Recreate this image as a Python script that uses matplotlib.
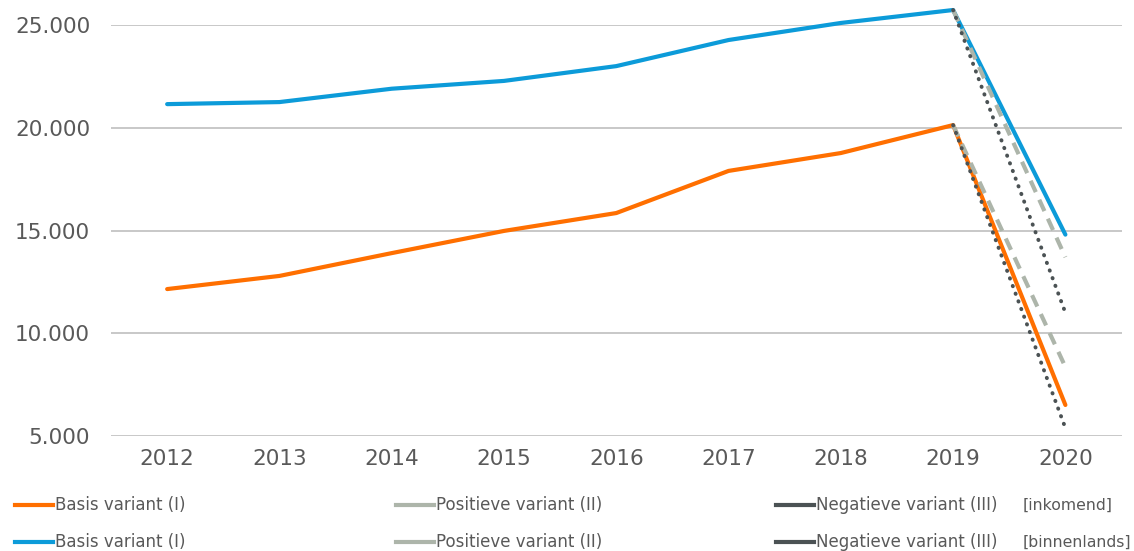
import matplotlib.pyplot as plt
import numpy as np
from matplotlib.lines import Line2D

years = ['2012', '2013', '2014', '2015', '2016', '2017', '2018', '2019', '2020']

# inkomend (orange)
ink_basis = [12150, 12790, 13900, 14980, 15850, 17900, 18770, 20130, 6510]
ink_pos = [np.nan] * 7 + [20130, 8360]
ink_neg = [np.nan] * 7 + [20130, 5390]

# binnenlands (blue)
bin_basis = [21150, 21250, 21900, 22280, 23000, 24270, 25100, 25730, 14800]
bin_pos = [np.nan] * 7 + [25730, 13700]
bin_neg = [np.nan] * 7 + [25730, 11000]

yticks = [5000, 10000, 15000, 20000, 25000]
ytick_labels = ['5.000', '10.000', '15.000', '20.000', '25.000']

orange = '#FF6F00'
blue = '#0C9BD9'
light = '#ADB5AA'
dark = '#4B5254'
txt = '#595959'

fig = plt.figure(figsize=(11.34, 5.51), dpi=100)
ax = fig.add_axes([0.0979, 0.2087, 0.8911, 0.7459])

x = np.arange(len(years))
ax.plot(x, ink_basis, color=orange, lw=3, clip_on=False, solid_capstyle='round', zorder=3)
ax.plot(x, bin_basis, color=blue, lw=3, clip_on=False, solid_capstyle='round', zorder=3)
ax.plot(x, ink_pos, color=light, lw=3, ls=(0, (3, 2)), clip_on=False, zorder=4)
ax.plot(x, bin_pos, color=light, lw=3, ls=(0, (3, 2)), clip_on=False, zorder=4)
ax.plot(x, ink_neg, color=dark, lw=2.8, ls=(0, (0.1, 2.0)), dash_capstyle='round', clip_on=False, zorder=5)
ax.plot(x, bin_neg, color=dark, lw=2.8, ls=(0, (0.1, 2.0)), dash_capstyle='round', clip_on=False, zorder=5)

ax.set_xlim(-0.5, len(years) - 0.5)
ax.set_ylim(5000, 25000)
ax.set_xticks(x)
ax.set_xticklabels(years)
ax.set_yticks(yticks)
ax.set_yticklabels(ytick_labels)
ax.tick_params(length=0, labelsize=15.5, colors=txt)
ax.tick_params(axis='y', pad=15)
ax.tick_params(axis='x', pad=9)
ax.grid(axis='y', color='#C8C8C8', lw=1.4)
ax.set_axisbelow(True)
for s in ax.spines.values():
    s.set_visible(False)

# legend, laid out by hand like the original
rows = [
    (orange, 'inkomend', 1 - 505 / 551),
    (blue, 'binnenlands', 1 - 542 / 551),
]
cols = [15, 396, 776]
for col_color, tag, yy in rows:
    specs = [
        (col_color, 'Basis variant (I)'),
        (light, 'Positieve variant (II)'),
        (dark, 'Negatieve variant (III)'),
    ]
    for cx, (c, lab) in zip(cols, specs):
        x0 = cx / 1134
        fig.add_artist(Line2D([x0, x0 + 38 / 1134], [yy, yy], color=c, lw=3,
                              transform=fig.transFigure))
        fig.text(x0 + 40 / 1134, yy, lab, fontsize=12, color=txt, va='center', ha='left')
    fig.text(1023 / 1134, yy, '[' + tag + ']', fontsize=11.3, color=txt, va='center', ha='left')

fig.savefig('out.png', dpi=100)
